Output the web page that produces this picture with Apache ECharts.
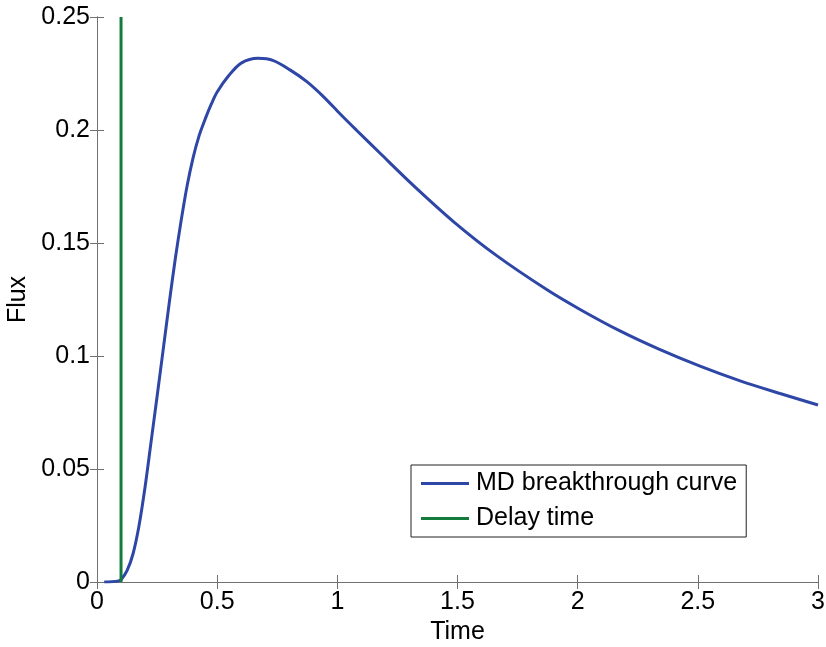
<!DOCTYPE html>
<html>
<head>
<meta charset="utf-8">
<script src="https://cdn.jsdelivr.net/npm/echarts@6/dist/echarts.min.js"></script>
<style>html,body{margin:0;padding:0;background:#fff}#c{width:826px;height:647px}</style>
</head>
<body>
<div id="c"></div>
<script>
const timeVals = [0.03,0.06,0.09,0.1,0.125,0.15,0.175,0.2,0.225,0.25,0.275,0.3,0.325,0.35,0.375,0.4,0.425,0.45,0.475,0.5,0.55,0.6,0.67,0.734,0.803,0.873,0.942,1.011,1.081,1.178,1.316,1.483,1.663,1.871,2.01,2.176,2.343,2.509,2.676,2.842,3.0];
const fluxVals = [0,0.0001,0.0005,0.001,0.005,0.0125,0.025,0.042,0.062,0.0821,0.1025,0.123,0.1425,0.1598,0.1753,0.1878,0.1975,0.2048,0.2113,0.2168,0.2243,0.2296,0.2317,0.2307,0.2266,0.2214,0.2148,0.2072,0.1998,0.1897,0.1755,0.1595,0.1444,0.1294,0.1206,0.1111,0.1028,0.0955,0.089,0.0834,0.0783];
const delayTime = 0.1;
const delayRange = [0, 0.25];
const seriesNames = ['MD breakthrough curve', 'Delay time'];
const xTicks = ['0','0.5','1','1.5','2','2.5','3'];
const yTicks = ['0','0.05','0.1','0.15','0.2','0.25'];

const font = 'Liberation Sans, Arial, Helvetica, sans-serif';
const fs = 25;
const axisCol = '#707070';
const blue = '#2e46a6';
const green = '#137b3b';

const chart = echarts.init(document.getElementById('c'), null, {renderer: 'canvas'});
const curve = timeVals.map((t, i) => [t, fluxVals[i]]);
const delay = delayRange.map(v => [delayTime, v]);

const baseAxis = {
  type: 'value',
  axisLine: {show: true, lineStyle: {color: axisCol, width: 1}},
  axisTick: {show: true, inside: true, length: 7, lineStyle: {color: axisCol}},
  splitLine: {show: false}
};

chart.setOption({
  animation: false,
  backgroundColor: '#fff',
  grid: {left: 97, right: 8, top: 17, bottom: 65, containLabel: false, outerBoundsMode: 'none'},
  legend: {
    orient: 'vertical',
    left: 411, top: 465,
    padding: [6, 9, 6, 10],
    itemGap: 10,
    itemWidth: 48,
    itemHeight: 3,
    icon: 'rect',
    borderColor: '#222',
    borderWidth: 1,
    borderRadius: 0,
    backgroundColor: '#fff',
    textStyle: {fontFamily: font, fontSize: fs, color: '#000', padding: [0, 0, 0, 2]},
    data: seriesNames
  },
  xAxis: [
    Object.assign({}, baseAxis, {
      min: 0, max: 3, interval: 0.5, position: 'bottom',
      name: 'Time', nameLocation: 'middle', nameGap: 38,
      nameTextStyle: {fontFamily: font, fontSize: fs, color: '#000'},
      axisLabel: {fontFamily: font, fontSize: fs, color: '#000', margin: 8,
        formatter: (v) => xTicks[Math.round(v / 0.5)] ?? ''}
    }),
    Object.assign({}, baseAxis, {
      min: 0, max: 3, interval: 0.5, position: 'top', axisLabel: {show: false}
    })
  ],
  yAxis: [
    Object.assign({}, baseAxis, {
      min: 0, max: 0.25, interval: 0.05, position: 'left',
      name: 'Flux', nameLocation: 'middle', nameGap: 65, nameRotate: 90,
      nameTextStyle: {fontFamily: font, fontSize: fs, color: '#000'},
      axisLabel: {fontFamily: font, fontSize: fs, color: '#000', margin: 7,
        formatter: (v) => yTicks[Math.round(v / 0.05)] ?? ''}
    }),
    Object.assign({}, baseAxis, {
      min: 0, max: 0.25, interval: 0.05, position: 'right', axisLabel: {show: false}
    })
  ],
  series: [
    {
      name: seriesNames[0], type: 'line', data: curve,
      xAxisIndex: 0, yAxisIndex: 0,
      smooth: 0.3, showSymbol: false, symbol: 'none',
      lineStyle: {color: blue, width: 3}, itemStyle: {color: blue}
    },
    {
      name: seriesNames[1], type: 'line', data: delay,
      xAxisIndex: 0, yAxisIndex: 0,
      showSymbol: false, symbol: 'none',
      lineStyle: {color: green, width: 3}, itemStyle: {color: green}
    }
  ]
});
</script>
</body>
</html>
